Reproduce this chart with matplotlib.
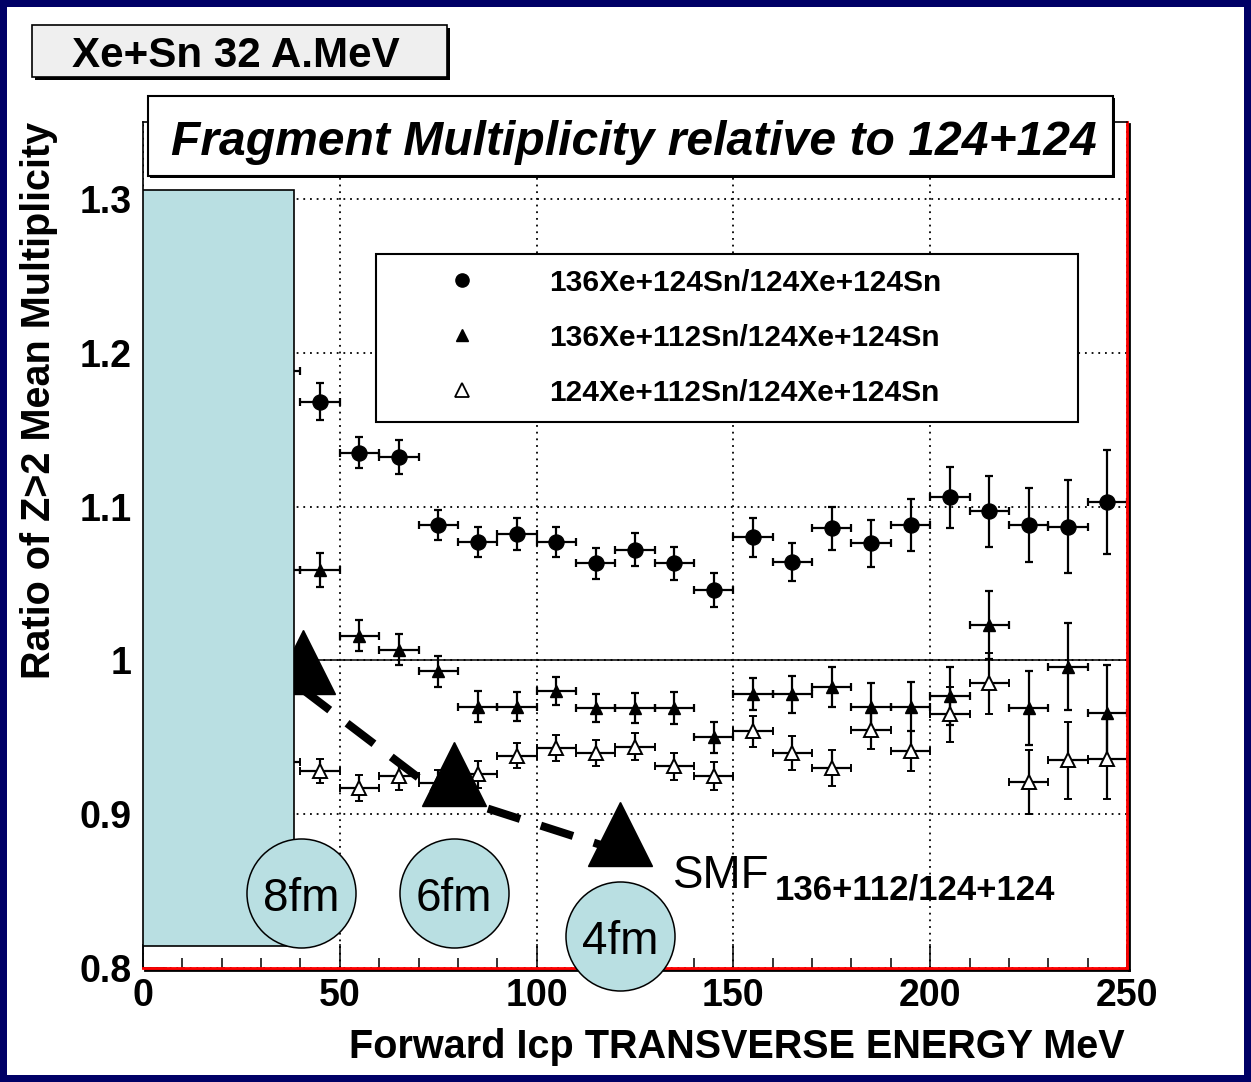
import matplotlib
matplotlib.use('Agg')
import matplotlib.pyplot as plt
import matplotlib.patheffects as pe
from matplotlib.patches import Rectangle
from matplotlib.lines import Line2D

plt.rcParams['font.family'] = 'Liberation Sans'
plt.rcParams['font.weight'] = 'bold'

W, H = 1251, 1082  # размер картинки в пикселях

def fx(px):
    '''пиксель по x -> доля фигуры'''
    return px / W

def fy(py):
    '''пиксель по y (сверху) -> доля фигуры'''
    return 1 - py / H

# --------DATA--------
energy = [35, 45, 55, 65, 75, 85, 95, 105, 115, 125, 135, 145,
          155, 165, 175, 185, 195, 205, 215, 225, 235, 245]  # центры бинов [МэВ]
bin_half = 5

ratio_136_124 = [1.188, 1.168, 1.135, 1.132, 1.088, 1.077, 1.082, 1.077, 1.063, 1.072, 1.063, 1.046,
                 1.080, 1.064, 1.086, 1.076, 1.088, 1.106, 1.097, 1.088, 1.087, 1.103]
err_136_124 = [0.012, 0.012, 0.010, 0.011, 0.010, 0.010, 0.0105, 0.010, 0.010, 0.0105, 0.0105, 0.011,
               0.0125, 0.0125, 0.014, 0.0155, 0.017, 0.020, 0.023, 0.024, 0.030, 0.034]

ratio_136_112 = [1.059, 1.059, 1.016, 1.007, 0.993, 0.970, 0.970, 0.980, 0.969, 0.969, 0.969, 0.950,
                 0.978, 0.978, 0.983, 0.970, 0.970, 0.977, 1.023, 0.969, 0.996, 0.966]
err_136_112 = [0.011, 0.011, 0.010, 0.010, 0.010, 0.010, 0.0095, 0.009, 0.009, 0.0095, 0.0105, 0.010,
               0.0105, 0.012, 0.013, 0.015, 0.016, 0.019, 0.022, 0.024, 0.028, 0.031]

ratio_124_112 = [0.934, 0.928, 0.917, 0.925, 0.920, 0.926, 0.938, 0.943, 0.940, 0.944, 0.931, 0.925,
                 0.954, 0.940, 0.930, 0.955, 0.941, 0.965, 0.985, 0.921, 0.935, 0.936]
err_124_112 = [0.008, 0.008, 0.0085, 0.009, 0.009, 0.0087, 0.008, 0.0085, 0.0085, 0.0085, 0.0087, 0.009,
               0.010, 0.011, 0.0115, 0.0125, 0.013, 0.018, 0.020, 0.021, 0.025, 0.026]

labels = ['136Xe+124Sn/124Xe+124Sn', '136Xe+112Sn/124Xe+124Sn', '124Xe+112Sn/124Xe+124Sn']

# SMF: прицельные параметры
b_labels = ['8fm', '6fm', '4fm']
smf_x = [40.6, 79.0, 121.2]
smf_y = [0.999, 0.926, 0.887]
circle_x = [40.2, 79.0, 121.3]
circle_y = [0.849, 0.849, 0.821]
trend_x = [40.6, 75.0, 121.2]
trend_y = [0.981, 0.914, 0.876]

# область, закрытая фильтром
cut_x = [0, 38.4]
cut_y = [0.8145, 1.306]

light_blue = '#b9dfe2'

# --------FIGURE--------
fig = plt.figure(figsize=(W / 100, H / 100), dpi=100, facecolor='#000066')
fig.add_artist(Rectangle((fx(7), fy(1075)), fx(1244) - fx(7), fy(7) - fy(1075),
                         transform=fig.transFigure, facecolor='white', edgecolor='none', zorder=-5))

ax = fig.add_axes([fx(143), fy(968), fx(1127) - fx(143), fy(122) - fy(968)])
ax.set_xlim(0, 250)
ax.set_ylim(0.8, 1.35)

ax.set_xticks([0, 50, 100, 150, 200, 250])
ax.set_xticks([v for v in range(0, 251, 10) if v % 50], minor=True)
ax.set_yticks([0.8, 0.9, 1.0, 1.1, 1.2, 1.3])
ax.set_yticklabels(['0.8', '0.9', '1', '1.1', '1.2', '1.3'])
ax.tick_params(axis='x', which='major', direction='in', length=17, width=1.1, labelsize=27, pad=7)
ax.tick_params(axis='x', which='minor', direction='in', length=7, width=1.1)
ax.tick_params(axis='y', which='major', direction='in', length=17, width=1.1, labelsize=27, pad=8)
ax.grid(which='major', color='black', linestyle=(0, (1, 2.7)), linewidth=1.3)

for side in ['right', 'bottom']:
    ax.spines[side].set_color('red')
    ax.spines[side].set_linewidth(2)
    ax.spines[side].set_path_effects([pe.SimpleLineShadow(offset=(1.3, -1.3), shadow_color='black', alpha=1.0),
                                      pe.Normal()])
for side in ['left', 'top']:
    ax.spines[side].set_color('black')
    ax.spines[side].set_linewidth(1.2)

ax.axhline(1.0, color='black', linewidth=1.1, zorder=1.8)

# --------DATA POINTS--------
eb_style = dict(xerr=bin_half, ecolor='black', elinewidth=1.6, capsize=3.2, capthick=1.6, linestyle='none', zorder=2)
ax.errorbar(energy, ratio_136_124, yerr=err_136_124, marker='o', ms=10.8, color='black', **eb_style)
ax.errorbar(energy, ratio_136_112, yerr=err_136_112, marker='^', ms=8.5, color='black', **eb_style)
ax.errorbar(energy, ratio_124_112, yerr=err_124_112, marker='^', ms=10, mfc='white', mec='black', mew=1.4, **eb_style)

# --------SMF ANNOTATION--------
ax.add_patch(Rectangle((cut_x[0], cut_y[0]), cut_x[1] - cut_x[0], cut_y[1] - cut_y[0],
                       facecolor=light_blue, edgecolor='black', linewidth=1.2, zorder=4))
ax.plot(trend_x, trend_y, color='black', linewidth=5.8, dashes=(4.2, 2.7), zorder=3.4)
ax.plot(smf_x, smf_y, '^', ms=46, color='black', linestyle='none', zorder=3.5, clip_on=False)
ax.plot(circle_x, circle_y, 'o', ms=78.5, mfc=light_blue, mec='black', mew=1.1,
        linestyle='none', zorder=6, clip_on=False)
for lab, x, y in zip(b_labels, circle_x, circle_y):
    ax.annotate(lab, (x, y), xytext=(0, -13), textcoords='offset points', ha='center', va='baseline',
                fontsize=33, fontweight='normal', zorder=7, annotation_clip=False)

fig.text(fx(673), fy(888), 'SMF', fontsize=33, fontweight='normal', ha='left', va='baseline')
fig.text(fx(775), fy(899), '136+112/124+124', fontsize=25, ha='left', va='baseline')

# --------LEGEND--------
handles = [Line2D([], [], linestyle='none', marker='o', ms=9.5, color='black'),
           Line2D([], [], linestyle='none', marker='^', ms=9, color='black'),
           Line2D([], [], linestyle='none', marker='^', ms=10, mfc='white', mec='black', mew=1.3)]
leg = ax.legend(handles, labels, loc='upper left',
                bbox_to_anchor=(fx(376), fy(418), fx(1078) - fx(376), fy(254) - fy(418)),
                bbox_transform=fig.transFigure, mode='expand', borderaxespad=0, borderpad=0.5,
                handlelength=4.75, handletextpad=0.55, labelspacing=0.9, fontsize=21.5,
                frameon=True, fancybox=False, edgecolor='black', framealpha=1)
leg.get_frame().set_linewidth(1.5)

# --------TITLES & LABELS--------
box = Rectangle((fx(32), fy(77)), fx(447) - fx(32), fy(25) - fy(77), transform=fig.transFigure,
                facecolor='#efefef', edgecolor='black', linewidth=1.2, zorder=1)
box.set_path_effects([pe.SimplePatchShadow(offset=(2.5, -2.5), shadow_rgbFace='black', alpha=1.0), pe.Normal()])
fig.add_artist(box)
fig.text(fx(236), fy(66.5), 'Xe+Sn 32 A.MeV', ha='center', va='baseline', fontsize=30.3, zorder=2)

tbox = Rectangle((fx(148), fy(176)), fx(1113) - fx(148), fy(96) - fy(176), transform=fig.transFigure,
                 facecolor='white', edgecolor='black', linewidth=1.5, zorder=1)
tbox.set_path_effects([pe.SimplePatchShadow(offset=(1.5, -1.5), shadow_rgbFace='black', alpha=1.0), pe.Normal()])
fig.add_artist(tbox)
fig.text(fx(634), fy(155), 'Fragment Multiplicity relative to 124+124', ha='center', va='baseline',
         fontsize=34.6, fontstyle='italic', zorder=2)

fig.text(fx(39), fy(122), 'Ratio of Z>2 Mean Multiplicity', rotation=90, ha='center', va='top', fontsize=28.5)
fig.text(fx(1125), fy(1058), 'Forward Icp TRANSVERSE ENERGY MeV', ha='right', va='baseline', fontsize=28.5)

fig.savefig('out.png', dpi=100, facecolor=fig.get_facecolor())
